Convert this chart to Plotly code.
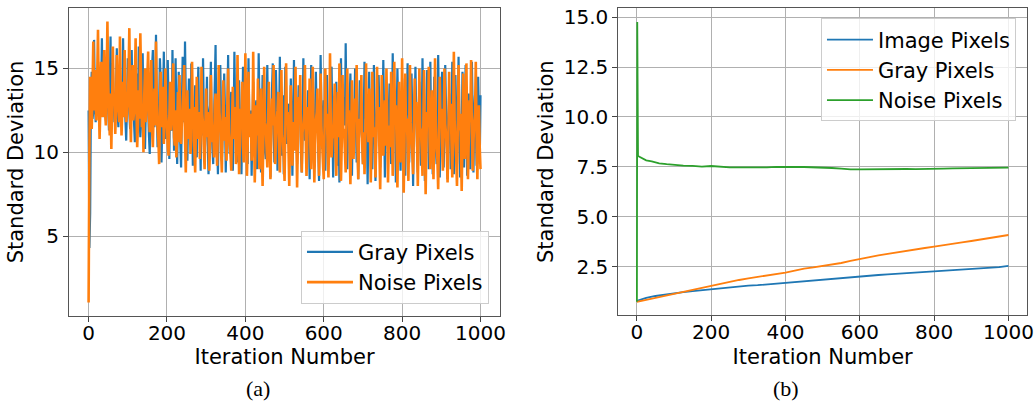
import plotly.graph_objects as go

# ---------------- data: panel (a) ----------------
gray_a = [12.5, 4.3, 6.4, 13.5,
    14.8, 12.0, 12.4, 16.7, 13.3, 11.8, 13.1, 12.2, 15.2, 12.9, 11.6, 13.4, 13.9, 16.8, 12.1, 12.5, 14.4, 13.0, 11.9, 15.6,
    14.1, 12.6, 11.3, 13.8, 16.9, 12.2, 12.7, 15.3, 13.1, 11.8, 12.9, 13.6, 16.2, 12.4, 11.5, 14.0, 14.9, 12.7, 13.3, 12.1,
    16.8, 13.0, 13.4, 11.9, 10.7, 12.8, 15.6, 13.5, 12.3, 11.4, 13.9, 16.1, 12.6, 13.0, 11.7, 10.6, 14.2, 12.9, 14.7, 12.0,
    16.3, 12.5, 10.9, 11.8, 13.5, 15.9, 12.1, 11.2, 10.2, 12.7, 14.4, 13.1, 12.6, 11.0, 9.9, 12.3, 13.8, 15.1, 16.1, 11.9,
    11.5, 13.4, 17.0, 12.6, 10.3, 11.7, 12.9, 15.6, 14.2, 9.4, 11.6, 13.2, 16.0, 12.5, 10.8, 11.4, 12.4, 15.5, 13.1, 9.6,
    14.1, 11.8, 11.3, 16.1, 12.9, 10.1, 13.0, 15.6, 12.0, 9.3, 12.2, 14.8, 11.4, 10.5, 9.1, 12.6, 15.7, 13.2, 11.8, 16.6,
    13.3, 10.7, 9.5, 12.1, 14.4, 11.6, 10.9, 15.3, 12.8, 9.2, 11.5, 12.6, 14.0, 10.4, 9.7, 12.9, 15.1, 11.9, 11.4, 8.9,
    13.2, 11.0, 15.6, 12.3, 9.8, 11.1, 11.9, 14.5, 10.6, 8.7, 12.4, 12.8, 15.4, 11.7, 10.2, 9.3, 12.0, 14.1, 16.4, 11.4,
    10.6, 8.7, 11.8, 13.0, 15.2, 12.2, 9.5, 11.0, 11.7, 14.7, 12.5, 8.8, 11.3, 12.5, 15.8, 11.6, 9.9, 12.9, 13.6, 10.7,
    8.9, 11.2, 16.0, 12.4, 11.2, 10.3, 9.4, 12.7, 14.3, 12.1, 12.1, 8.7, 11.4, 15.1, 12.6, 10.8, 10.8, 13.5, 12.8, 9.3,
    15.6, 11.9, 11.6, 12.5, 8.6, 11.3, 14.2, 11.6, 10.4, 12.6, 13.1, 9.0, 11.7, 15.9, 12.8, 11.7, 8.8, 11.9, 14.6, 12.3,
    12.3, 10.1, 9.6, 12.7, 15.2, 11.4, 10.1, 12.5, 8.5, 11.3, 13.8, 15.3, 11.7, 9.4, 12.0, 14.9, 12.6, 8.9, 11.5, 11.3,
    15.7, 12.1, 9.8, 11.6, 13.4, 8.7, 12.2, 15.1, 11.5, 10.5, 12.6, 12.9, 9.1, 11.8, 14.4, 12.0, 8.6, 11.4, 15.5, 11.7,
    11.0, 12.4, 9.3, 11.9, 14.0, 12.5, 12.2, 9.9, 8.8, 11.5, 15.6, 12.3, 10.7, 12.0, 9.5, 11.8, 13.7, 11.3, 8.4, 12.1,
    15.2, 11.6, 11.8, 9.6, 9.1, 12.4, 14.8, 11.9, 12.4, 10.2, 8.3, 11.7, 15.8, 12.5, 10.2, 11.6, 13.1, 12.2, 8.9, 11.4,
    14.6, 12.0, 9.6, 11.5, 12.8, 14.7, 15.1, 11.8, 8.5, 11.2, 11.4, 12.6, 14.2, 11.7, 9.2, 11.9, 8.2, 11.1, 15.6, 12.3,
    10.9, 12.4, 13.3, 11.6, 16.5, 12.1, 9.0, 11.3, 12.1, 13.0, 14.7, 11.8, 8.6, 11.7, 11.5, 12.2, 15.0, 11.9, 9.4, 11.0,
    8.4, 11.6, 14.3, 12.4, 11.2, 10.8, 9.3, 11.9, 15.4, 12.2, 12.0, 11.4, 8.1, 11.5, 14.8, 11.7, 10.6, 12.3, 9.0, 11.8,
    15.2, 11.9, 8.3, 11.2, 12.7, 11.6, 14.6, 12.5, 9.1, 11.7, 11.3, 12.0, 15.5, 12.1, 8.5, 11.5, 13.4, 11.9, 10.2, 12.4,
    14.1, 11.6, 9.3, 11.2, 15.9, 12.6, 11.6, 12.1, 8.2, 11.7, 15.0, 12.4, 12.5, 10.8, 8.9, 11.9, 14.4, 11.8, 10.8, 12.3,
    8.6, 11.8, 13.2, 15.3, 12.7, 9.4, 11.5, 10.9, 14.7, 12.0, 8.0, 11.6, 12.8, 15.1, 12.2, 10.4, 8.8, 11.9, 14.2, 12.5,
    9.2, 11.4, 15.6, 12.1, 10.7, 8.3, 11.6, 12.9, 14.9, 12.3, 9.0, 11.8, 15.4, 11.2, 12.6, 8.7, 11.9, 14.5, 12.0, 10.3,
    9.3, 11.5, 15.8, 12.4, 8.5, 11.7, 13.2, 14.8, 12.2, 9.1, 11.5, 15.2, 12.6, 10.6, 8.4, 11.9, 13.5, 12.0, 9.0, 11.6,
    15.4, 11.8, 8.7, 12.1, 14.6, 12.3, 9.3, 11.7, 15.7, 12.4, 8.5, 11.8, 10.9, 14.8, 12.1, 9.1, 11.6, 15.2, 12.5, 8.6,
    11.9, 13.5, 12.0, 9.0, 11.7, 15.4, 12.3, 8.8, 12.2, 13.4, 11.6, 9.2, 11.8, 14.5, 12.0, 9.3, 13.4]
noise_a = [1.06, 10.0, 14.5, 12.0,
    11.4, 13.8, 16.6, 12.5, 14.9, 12.8, 11.9, 14.5, 17.3, 13.2, 10.8, 12.6, 15.4, 13.7, 12.1, 14.8, 16.1, 12.4, 11.6, 13.9,
    17.8, 14.2, 12.3, 11.0, 13.5, 10.2, 12.9, 16.3, 13.1, 13.5, 11.1, 12.7, 15.8, 14.0, 12.6, 11.8, 16.9, 13.4, 11.0, 12.5,
    14.2, 12.1, 16.1, 13.6, 11.8, 12.4, 13.0, 14.7, 17.4, 12.2, 10.6, 13.3, 15.2, 11.9, 12.4, 14.1, 16.8, 12.8, 10.3, 11.7,
    13.7, 12.0, 17.1, 14.3, 11.5, 12.9, 10.0, 13.4, 15.0, 11.8, 12.9, 14.6, 16.0, 12.3, 11.2, 13.1, 15.5, 11.4, 10.3, 12.6,
    13.8, 11.6, 16.6, 12.9, 11.4, 10.8, 9.3, 12.7, 14.8, 11.5, 12.5, 13.9, 10.5, 11.8, 15.0, 12.2, 11.6, 10.4, 9.8, 12.1,
    14.2, 11.3, 12.0, 13.6, 15.3, 10.9, 10.4, 12.5, 9.7, 11.4, 13.6, 10.6, 14.6, 12.1, 10.5, 11.7, 12.2, 13.8, 15.2, 10.9,
    8.8, 11.2, 13.7, 10.8, 11.3, 12.6, 9.9, 10.7, 15.4, 12.2, 12.7, 10.1, 8.8, 11.9, 14.5, 11.3, 10.8, 12.4, 9.6, 11.0,
    15.1, 12.3, 11.7, 10.2, 9.0, 11.6, 13.8, 10.9, 12.4, 11.1, 8.9, 10.6, 14.6, 12.0, 10.6, 11.4, 9.7, 12.8, 13.5, 10.4,
    9.2, 11.5, 15.2, 12.4, 11.6, 10.1, 8.8, 11.9, 14.3, 10.7, 12.1, 11.3, 9.5, 12.6, 15.0, 11.2, 10.4, 9.9, 8.9, 11.8,
    13.9, 10.8, 11.8, 12.7, 9.3, 11.2, 15.8, 12.0, 8.7, 10.6, 12.6, 11.4, 14.2, 10.3, 9.4, 11.9, 15.9, 12.2, 8.6, 10.5,
    14.8, 11.6, 10.9, 12.3, 9.5, 10.8, 16.0, 11.9, 8.2, 10.4, 12.8, 11.0, 14.4, 10.6, 9.0, 11.7, 13.8, 10.2, 8.0, 10.9,
    15.1, 11.8, 11.5, 10.3, 9.1, 11.9, 14.2, 10.5, 8.4, 10.8, 13.2, 11.6, 15.2, 12.1, 9.3, 10.7, 11.9, 12.5, 13.6, 10.2,
    8.8, 11.3, 14.9, 11.0, 10.7, 9.6, 8.3, 11.4, 15.3, 12.0, 12.4, 10.3, 8.0, 10.9, 14.0, 11.2, 9.2, 11.6, 11.8, 10.1,
    15.1, 11.4, 7.9, 10.6, 13.3, 11.7, 14.6, 10.9, 8.8, 11.2, 11.6, 12.3, 15.2, 11.0, 8.6, 10.4, 12.7, 11.5, 14.4, 10.3,
    9.0, 11.8, 15.1, 11.2, 8.2, 10.5, 11.9, 12.4, 13.8, 10.6, 8.6, 11.1, 14.7, 11.6, 10.5, 9.4, 8.4, 11.3, 15.0, 12.0,
    12.3, 10.2, 8.5, 11.0, 15.9, 11.7, 9.7, 10.8, 11.0, 12.6, 14.1, 10.4, 8.6, 11.5, 13.6, 10.9, 15.3, 11.8, 8.3, 10.6,
    14.6, 11.2, 11.4, 10.1, 8.8, 11.7, 15.0, 12.2, 12.5, 10.3, 8.1, 10.9, 14.3, 11.4, 9.6, 11.0, 13.2, 12.1, 15.2, 10.5,
    8.4, 10.8, 12.0, 11.5, 14.6, 10.7, 9.3, 11.2, 8.7, 10.4, 15.3, 11.9, 11.8, 10.6, 13.8, 11.3, 8.2, 10.9, 14.8, 11.6,
    10.9, 11.5, 8.5, 10.7, 15.1, 11.8, 12.7, 10.2, 7.8, 10.8, 14.6, 11.3, 9.8, 11.5, 13.1, 10.4, 15.0, 11.9, 8.2, 10.6,
    11.6, 10.3, 14.8, 11.7, 8.6, 10.9, 15.4, 12.0, 12.8, 10.5, 7.9, 11.1, 14.2, 10.8, 9.4, 11.6, 15.6, 11.2, 7.6, 10.4,
    14.7, 11.3, 12.0, 10.5, 8.3, 11.2, 15.2, 11.8, 10.6, 9.9, 8.7, 11.4, 14.4, 12.1, 13.0, 10.6, 8.0, 10.8, 15.0, 11.5,
    11.3, 10.2, 8.6, 11.4, 14.9, 11.1, 7.5, 10.7, 12.4, 11.9, 15.1, 10.8, 9.0, 11.6, 13.7, 10.4, 8.4, 11.2, 15.6, 11.8,
    10.2, 9.6, 7.8, 10.9, 14.5, 11.5, 12.6, 10.3, 8.9, 11.2, 15.0, 11.7, 11.1, 10.1, 8.2, 10.8, 14.8, 12.0, 12.9, 10.6,
    8.5, 11.1, 16.0, 11.9, 10.8, 9.7, 8.0, 11.4, 15.2, 11.3, 12.3, 10.5, 7.7, 10.9, 14.7, 11.6, 9.6, 11.0, 15.3, 11.4,
    8.4, 10.7, 13.1, 11.8, 15.5, 11.2, 8.9, 10.6, 11.8, 12.3, 15.4, 10.9, 8.4, 11.5, 12.8, 10.3, 9.0]
# iterations: first points every 2, then every 2 from 8 onward
iter_gray_a = [0, 2, 4, 6] + list(range(8, 8 + 2 * (len(gray_a) - 4), 2))
iter_noise_a = [0, 2, 4, 6] + list(range(8, 8 + 2 * (len(noise_a) - 4), 2))

# ---------------- data: panel (b) ----------------
iter_b = list(range(0, 1001, 25))
image_b = [0.80, 0.95, 1.05, 1.12, 1.18, 1.24, 1.29, 1.34, 1.40, 1.44, 1.49,
           1.53, 1.57, 1.59, 1.63, 1.68, 1.73, 1.76, 1.80, 1.85, 1.89, 1.92,
           1.95, 1.98, 2.02, 2.06, 2.10, 2.13, 2.16, 2.19, 2.22, 2.25, 2.29,
           2.33, 2.36, 2.39, 2.42, 2.44, 2.46, 2.49, 2.56]
gray_b = [0.75, 0.85, 0.96, 1.07, 1.17, 1.26, 1.35, 1.44, 1.55, 1.65, 1.75,
          1.85, 1.93, 2.00, 2.08, 2.14, 2.22, 2.32, 2.42, 2.48, 2.55, 2.62,
          2.70, 2.80, 2.90, 2.98, 3.08, 3.16, 3.24, 3.30, 3.37, 3.45, 3.52,
          3.58, 3.65, 3.73, 3.80, 3.88, 3.96, 4.03, 4.10]
iter_g = [0, 1, 3, 15, 25, 40, 60, 80, 100, 125, 150, 175, 200, 225, 250, 275,
          300, 325, 350, 375, 400, 425, 450, 475, 500, 525, 550, 575, 600, 625,
          650, 675, 700, 725, 750, 775, 800, 825, 850, 875, 900, 925, 950, 975, 1000]
noise_b = [0.76, 14.75, 8.05, 7.95, 7.83, 7.78, 7.68, 7.64, 7.60, 7.57, 7.56,
           7.52, 7.55, 7.51, 7.48, 7.48, 7.47, 7.46, 7.48, 7.51, 7.52, 7.50,
           7.50, 7.49, 7.47, 7.45, 7.42, 7.38, 7.38, 7.39, 7.37, 7.40, 7.41,
           7.40, 7.39, 7.41, 7.41, 7.42, 7.43, 7.44, 7.45, 7.44, 7.46, 7.46, 7.47]

BLUE, ORANGE, GREEN = "#1f77b4", "#ff7f0e", "#2ca02c"
FONT = "DejaVu Sans"

fig = go.Figure()
fig.add_trace(go.Scatter(x=iter_gray_a, y=gray_a, mode="lines", name="Gray Pixels",
                         line=dict(color=BLUE, width=2.2, simplify=False),
                         xaxis="x", yaxis="y", legend="legend"))
fig.add_trace(go.Scatter(x=iter_noise_a, y=noise_a, mode="lines", name="Noise Pixels",
                         line=dict(color=ORANGE, width=2.6, simplify=False),
                         xaxis="x", yaxis="y", legend="legend"))
fig.add_trace(go.Scatter(x=iter_b, y=image_b, mode="lines", name="Image Pixels",
                         line=dict(color=BLUE, width=1.8), xaxis="x2", yaxis="y2", legend="legend2"))
fig.add_trace(go.Scatter(x=iter_b, y=gray_b, mode="lines", name="Gray Pixels",
                         line=dict(color=ORANGE, width=1.8), xaxis="x2", yaxis="y2", legend="legend2"))
fig.add_trace(go.Scatter(x=iter_g, y=noise_b, mode="lines", name="Noise Pixels",
                         line=dict(color=GREEN, width=1.8), xaxis="x2", yaxis="y2", legend="legend2"))

axis_common = dict(
    showline=True, linecolor="#555555", linewidth=1, mirror=True,
    showgrid=True, gridcolor="#b0b0b0", gridwidth=1,
    ticks="outside", ticklen=5, tickcolor="#444444", tickwidth=1,
    tickfont=dict(family=FONT, size=20, color="#000000"),
    zeroline=False, automargin=False,
)
xt = dict(tickvals=[0, 200, 400, 600, 800, 1000], range=[-50, 1050], ticklabelstandoff=-6)
title_font = dict(family=FONT, size=21, color="#000")
legend_common = dict(bgcolor="rgba(255,255,255,0.8)", bordercolor="#cccccc", borderwidth=1,
                     font=dict(family=FONT, size=21, color="#000"), itemwidth=46,
                     tracegroupgap=0)

fig.update_layout(
    width=1036, height=402,
    margin=dict(l=69, r=9, t=8, b=86),
    plot_bgcolor="white", paper_bgcolor="white",
    xaxis=dict(domain=[0, 0.45], anchor="y", **xt, **axis_common,
               title=dict(text="Iteration Number", font=title_font, standoff=5)),
    yaxis=dict(domain=[0, 1], anchor="x", range=[0.25, 18.6], tickvals=[5, 10, 15], **axis_common,
               title=dict(text="Standard Deviation", font=title_font, standoff=4)),
    xaxis2=dict(domain=[0.5734, 1.0], anchor="y2", **xt, **axis_common,
                title=dict(text="Iteration Number", font=title_font, standoff=5)),
    yaxis2=dict(domain=[0.002, 1], anchor="x2", range=[0.08, 15.45],
                tickvals=[2.5, 5.0, 7.5, 10.0, 12.5, 15.0], tickformat=".1f", **axis_common,
                title=dict(text="Standard Deviation", font=title_font, standoff=4)),
    legend=dict(x=0.4384, y=0.04, xanchor="right", yanchor="bottom", **legend_common),
    legend2=dict(x=0.9885, y=0.966, xanchor="right", yanchor="top", **legend_common),
    showlegend=True,
)

cap_font = dict(family="Liberation Serif", size=22, color="#000")
fig.add_annotation(text="(a)", xref="paper", x=(258 - 69) / 958, yref="paper", y=-0.237,
                   showarrow=False, font=cap_font, xanchor="center", yanchor="middle")
fig.add_annotation(text="(b)", xref="paper", x=(785.7 - 69) / 958, yref="paper", y=-0.237,
                   showarrow=False, font=cap_font, xanchor="center", yanchor="middle")

fig.write_html("out.html", config={"displayModeBar": False},
               post_script="document.body.style.margin='0px';")
